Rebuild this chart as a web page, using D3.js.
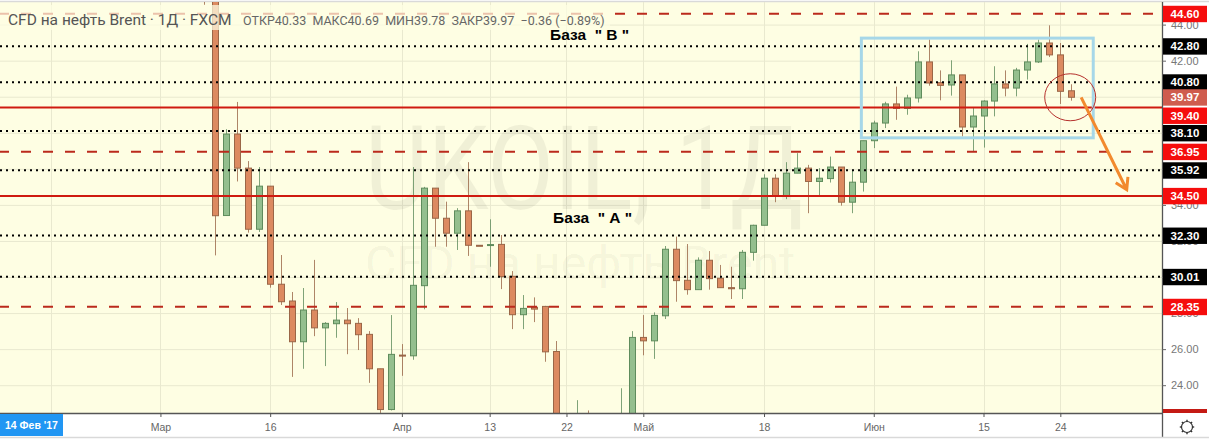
<!DOCTYPE html>
<html><head><meta charset="utf-8">
<script src="https://cdn.jsdelivr.net/npm/d3@7/dist/d3.min.js"></script>
<style>html,body{margin:0;padding:0;background:#fff;overflow:hidden}svg{display:block;font-family:"Liberation Sans",Arial,sans-serif}</style>
</head><body><svg id="c" width="1209" height="439"></svg>
<script>
// Candles, from bar index -1 to 78 (daily, 2017)
const opens=[48,47,33.41,37.93,36.04,32.65,35.04,29.6,28.67,26.41,28.17,27.18,27.41,27.61,27.43,26.82,24.91,22.65,25.67,25.63,29.52,34.93,33.26,32.43,33.67,31.76,31.76,31.81,30.04,27.91,28.32,28.37,25.87,22,21.5,22,21.6,21.8,22,22.2,26.65,26.46,27.85,31.54,29.82,29.3,30.93,29.93,29.41,29.35,31.37,32.87,35.48,34.52,35.76,36.04,35.3,35.46,36.1,34.15,35.26,37.56,38.54,39.6,39.35,39.93,41.93,40.78,40.65,41.21,38.32,38.93,39.76,40.71,40.48,41.48,41.93,42.98,42.32,40.33];
const highs=[49,47.5,38.2,39.71,36.43,36.1,35.04,31.22,29.17,29.39,30.95,27.5,28.61,28.28,27.72,27,24.91,27.89,26.28,36.1,35,34.93,34.18,33.82,36.37,31.76,33.2,32.33,30.33,29,28.87,28.4,26.45,22.3,23.17,22.6,22.2,22.3,23.83,27,27.89,28.04,31.72,32.24,31.83,31.09,31.44,30.67,30.57,31.5,32.9,35.7,35.7,36.37,36.87,36.22,36.04,36.68,36.1,35.95,37.56,38.67,39.72,40.56,40.11,42.52,43.17,41.46,42.02,41.21,39.37,39.8,41.69,41.46,41.6,42.93,43.17,43.96,42.98,40.69];
const lows=[45.1,31.2,33.4,35.3,32.46,32.5,29.41,28.45,24.46,24.91,26.72,25.06,26.63,25.72,25.95,24.13,22.46,22.6,24.52,25.41,28.21,31.68,31.68,31.5,31.17,31.74,30.57,29.33,27.11,27.11,27.5,25.3,21.5,21,21,21,21,21.2,21.5,22,25.66,25.46,27.67,28.63,29.02,29.3,29.3,29.41,28.78,28.78,30.91,32.87,34.15,34.32,35.76,33.54,34.46,35.24,33.96,33.54,34.74,37.15,38.26,38.72,39,39.68,40.61,39.8,40.06,37.8,36.96,37.18,38.91,40.02,40.02,40.95,41.87,42.2,39.6,39.78];
const closes=[47,33.4,37.93,36.04,32.65,35.04,29.6,28.63,26.41,28.17,27.18,27.43,27.61,27.41,26.8,24.91,22.65,25.71,25.62,29.54,34.93,33.26,32.43,33.67,31.76,31.74,31.8,30.02,27.91,28.26,28.22,25.85,22,21.5,22,21.6,21.8,22,22.2,26.65,26.46,27.87,31.54,29.8,29.3,30.93,29.91,29.41,29.35,31.37,32.87,35.48,34.52,35.76,36.04,35.3,35.48,36.1,34.15,35.26,37.56,38.54,39.6,39.35,39.93,41.93,40.76,40.63,41.21,38.32,38.93,39.76,40.71,40.48,41.48,41.93,42.98,42.32,40.3,39.97];
const firstBar=-1;

// Horizontal levels
const dottedLevels=[42.8,40.8,38.1,35.92,32.3,30.01];
const solidLevels=[39.4,34.5];
const dashedLevels=[44.6,36.95,28.35];
const lastPrice=39.97;

// Axes
const priceTicks=[24,26,28,30,32,34,36,38,40,42,44];
const dateTickBars=[-15,-5,5,17,25,32,39,50,60,70,77];
const dateTickLabels=["","Мар","16","Апр","13","22","Май","18","Июн","15","24"];

// Annotation anchors, in bar/price terms
const boxBars=[58.87,80.0], boxPrices=[43.25,37.72];
const circleCentre=[77.9,39.97], arrowFrom=[78.9,39.96], arrowTo=[83.05,34.84];

const svg=d3.select("#c");
const W=1162,B=413;
const x=d3.scaleLinear().domain([0,78]).range([215.3,1071.3]);
const y=d3.scaleLinear().domain([24,44]).range([385.2,24.6]);

svg.append("rect").attr("width",1209).attr("height",439).attr("fill","#fff");
svg.append("defs").append("clipPath").attr("id","plot").append("rect").attr("x",0).attr("y",2).attr("width",W).attr("height",B-2);
svg.append("rect").attr("x",0).attr("y",2).attr("width",W).attr("height",B-2).attr("fill","#fefee3");
svg.append("line").attr("x1",0).attr("x2",1209).attr("y1",1.5).attr("y2",1.5).attr("stroke","#d9d9d9").attr("stroke-width",1.5);

const plot=svg.append("g").attr("clip-path","url(#plot)");
// grid
plot.selectAll("line.gh").data(priceTicks).join("line").attr("class","gh").attr("x1",0).attr("x2",W)
 .attr("y1",d=>y(d)+.5).attr("y2",d=>y(d)+.5).attr("stroke","#e9e9cf");
plot.selectAll("line.gv").data(dateTickBars).join("line").attr("class","gv").attr("y1",0).attr("y2",B)
 .attr("x1",d=>Math.round(x(d))+.5).attr("x2",d=>Math.round(x(d))+.5).attr("stroke","#e9e9cf");
// watermark
plot.append("text").attr("x",365).attr("y",209).attr("font-size",116).attr("font-family","Roboto,Arial,sans-serif").attr("fill","#000").attr("fill-opacity",.055).attr("textLength",438).attr("lengthAdjust","spacingAndGlyphs").text("UKOIL, 1Д");
plot.append("text").attr("x",365).attr("y",279).attr("font-size",47).attr("font-family","Roboto,Arial,sans-serif").attr("fill","#000").attr("fill-opacity",.055).attr("textLength",430).attr("lengthAdjust","spacingAndGlyphs").text("CFD на нефть Brent");

// candles
const bars=opens.map((o,i)=>({i:i+firstBar,o,h:highs[i],l:lows[i],c:closes[i]}));
const col=d=>d.c>=d.o?{f:"#94bf8e",s:"#5f8c5c"}:{f:"#dc8a60",s:"#9a6647"};
const g=plot.append("g");
g.selectAll("line.w").data(bars).join("line").attr("class","w")
 .attr("x1",d=>Math.round(x(d.i))+.5).attr("x2",d=>Math.round(x(d.i))+.5)
 .attr("y1",d=>y(d.h)).attr("y2",d=>y(d.l)).attr("stroke",d=>col(d).s).attr("stroke-opacity",.8);
g.selectAll("rect").data(bars).join("rect")
 .attr("x",d=>Math.round(x(d.i))-2.5).attr("width",6)
 .attr("y",d=>y(Math.max(d.o,d.c))).attr("height",d=>Math.max(1,y(Math.min(d.o,d.c))-y(Math.max(d.o,d.c))))
 .attr("fill",d=>col(d).f).attr("stroke",d=>col(d).s);

// levels
plot.selectAll("line.dot").data(dottedLevels).join("line").attr("class","dot").attr("x1",0).attr("x2",W)
 .attr("y1",d=>y(d)).attr("y2",d=>y(d)).attr("stroke","#000").attr("stroke-width",2).attr("stroke-dasharray","2 4");
plot.selectAll("line.sol").data(solidLevels).join("line").attr("class","sol").attr("x1",0).attr("x2",W)
 .attr("y1",d=>y(d)).attr("y2",d=>y(d)).attr("stroke","#cf1a10").attr("stroke-width",2);
plot.selectAll("line.dash").data(dashedLevels).join("line").attr("class","dash").attr("x1",-1).attr("x2",W)
 .attr("y1",d=>y(d)).attr("y2",d=>y(d)).attr("stroke","#bb2a1c").attr("stroke-width",2).attr("stroke-dasharray","10 12");

// annotations
plot.append("rect").attr("x",x(boxBars[0])).attr("width",x(boxBars[1])-x(boxBars[0]))
 .attr("y",y(boxPrices[0])).attr("height",y(boxPrices[1])-y(boxPrices[0]))
 .attr("fill","none").attr("stroke","#a6d7e8").attr("stroke-width",3);
plot.append("ellipse").attr("cx",x(circleCentre[0])).attr("cy",y(circleCentre[1])).attr("rx",25.5).attr("ry",23.5)
 .attr("fill","none").attr("stroke","#b5302c").attr("stroke-width",1);
const ax0=x(arrowFrom[0]),ay0=y(arrowFrom[1]),ax1=x(arrowTo[0]),ay1=y(arrowTo[1]);
const ang=Math.atan2(ay1-ay0,ax1-ax0),hl=13;
const head=s=>[ax1-hl*Math.cos(ang+s*.55),ay1-hl*Math.sin(ang+s*.55)];
plot.append("path").attr("d",d3.line()([[ax0,ay0],[ax1,ay1]])+d3.line()([head(1),[ax1,ay1],head(-1)]))
 .attr("fill","none").attr("stroke","#f28a2e").attr("stroke-width",3);
[["База  \" В \"",550,40],["База  \" А \"",553,222.5]].forEach(t=>{
 plot.append("text").attr("x",t[1]).attr("y",t[2]).attr("font-size",15.5).attr("font-weight",700).attr("fill","#000").attr("xml:space","preserve").text(t[0]);
});

// legend band
plot.append("rect").attr("x",0).attr("y",5).attr("width",610).attr("height",25).attr("fill","#fefee3").attr("fill-opacity",.72);
svg.append("text").attr("x",8).attr("y",25).attr("font-size",15.5).attr("font-family","Roboto,Arial,sans-serif").attr("fill","#555").text("CFD на нефть Brent · 1Д · FXCM");
svg.append("text").attr("x",243).attr("y",25).attr("font-size",12.5).attr("font-family","Roboto,Arial,sans-serif").attr("fill","#666").attr("xml:space","preserve").text("ОТКР40.33  МАКС40.69  МИН39.78  ЗАКР39.97  −0.36 (−0.89%)");

// x axis
const xAxis=d3.axisBottom(x).tickValues(dateTickBars).tickSize(4).tickPadding(7).tickFormat((d,i)=>dateTickLabels[i]);
const xg=svg.append("g").attr("transform",`translate(0,${B})`).call(xAxis);
xg.select(".domain").attr("d",`M0,0.5H${W}`).attr("stroke","#555").attr("stroke-width",1.3);
xg.selectAll("text").attr("font-size",10.5).attr("font-family","Liberation Sans,Arial,sans-serif").attr("fill","#666");
xg.selectAll("line").attr("stroke","#555");

// y axis
const yAxis=d3.axisRight(y).tickValues(priceTicks).tickSize(4).tickPadding(5).tickFormat(d3.format(".2f"));
const yg=svg.append("g").attr("transform",`translate(${W},0)`).call(yAxis);
yg.select(".domain").attr("d","M0.5,2V437").attr("stroke","#555").attr("stroke-width",1.3);
yg.selectAll("text").attr("font-size",11).attr("font-family","Liberation Sans,Arial,sans-serif").attr("fill","#777");
yg.selectAll("line").attr("stroke","#666");

// price tags (two are pushed down by the chart's collision avoidance)
const tagShiftPrices=[39.4,38.1], tagShifts=[8,2];
const shift=v=>{const k=tagShiftPrices.indexOf(v);return k<0?0:tagShifts[k];};
const tags=[...dottedLevels.map(v=>({v,f:"#000"})),...dashedLevels.map(v=>({v,f:"#f50d0d"})),...solidLevels.map(v=>({v,f:"#f50d0d"})),{v:lastPrice,f:"#cf5c4e"}];
const tg=svg.append("g");
tg.selectAll("rect").data(tags).join("rect").attr("x",W+1).attr("width",44)
 .attr("y",d=>y(d.v)+shift(d.v)-8).attr("height",16.4).attr("fill",d=>d.f);
tg.selectAll("text").data(tags).join("text").attr("x",W+23).attr("y",d=>y(d.v)+shift(d.v)+4.2).attr("text-anchor","middle")
 .attr("font-size",11.5).attr("font-weight",700).attr("fill","#fff").text(d=>d3.format(".2f")(d.v));
svg.append("rect").attr("x",W+1).attr("y",409).attr("width",44).attr("height",4).attr("fill","#c41a14");

// bottom strip
svg.append("line").attr("x1",0).attr("x2",1209).attr("y1",437.5).attr("y2",437.5).attr("stroke","#d9d9d9").attr("stroke-width",1.5);
svg.append("rect").attr("x",0).attr("y",414).attr("width",63).attr("height",22).attr("fill","#2196f3");
svg.append("text").attr("x",31.5).attr("y",429).attr("text-anchor","middle").attr("font-size",10.5).attr("font-weight",700).attr("fill","#fff").text("14 Фев '17");

// settings gear
const gear=svg.append("g").attr("transform","translate(1187,427)").attr("stroke","#333").attr("fill","none");
gear.append("circle").attr("r",5.5).attr("stroke-width",1.2);
gear.selectAll("line").data(d3.range(8)).join("line").attr("stroke-width",1.4)
 .attr("x1",d=>5.2*Math.cos(d*Math.PI/4)).attr("y1",d=>5.2*Math.sin(d*Math.PI/4))
 .attr("x2",d=>7.2*Math.cos(d*Math.PI/4)).attr("y2",d=>7.2*Math.sin(d*Math.PI/4));
</script></body></html>
